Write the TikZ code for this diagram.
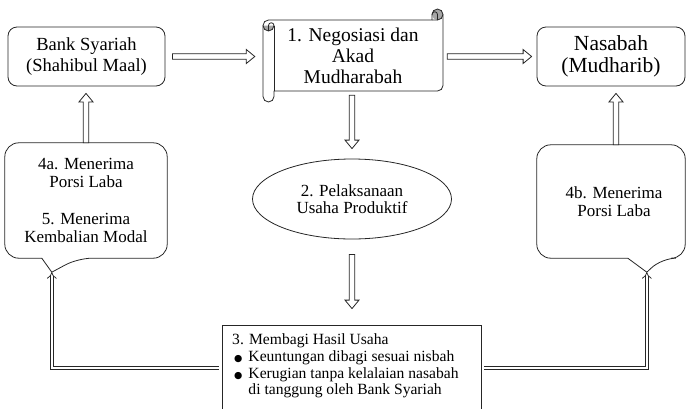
\documentclass[tikz,border=0pt]{standalone}
\usepackage{fontspec}
\setmainfont{Liberation Serif}
\newfontfamily\symfont{DejaVu Sans}
\usetikzlibrary{calc,shapes.geometric,arrows.meta}
\newcommand\bul{{\symfont\fontsize{9.5}{9.5}\selectfont ●}}
\tikzset{
  outline/.style={draw=black!85, line width=0.8pt},
  entitybox/.style={outline, rounded corners=9pt, minimum height=59pt, inner sep=0pt, align=center},
  blockarr/.style={outline, fill=white, line join=miter},
  dbl/.style={draw=black!85, double=white, double distance=2.6pt, line width=0.75pt, -{Implies[]}},
  curl/.style={fill=black!35},
}
\newcommand\blockarrow[2]{%
  \draw[blockarr] let \p1=(#1), \p2=(#2),
      \n1={atan2(\y2-\y1,\x2-\x1)}, \n2={veclen(\x2-\x1,\y2-\y1)} in
    [shift={(\p1)}, rotate=\n1]
    (0pt,-2.75pt) -- ({\n2*1pt-8.5pt},-2.75pt) -- ({\n2*1pt-8.5pt},-7pt) -- ({\n2*1pt},0pt)
    -- ({\n2*1pt-8.5pt},7pt) -- ({\n2*1pt-8.5pt},2.75pt) -- (0pt,2.75pt) -- cycle;}
\begin{document}
\begin{tikzpicture}[x=1pt,y=-1pt]
\useasboundingbox (0,0) rectangle (686,408);
% entities
\node[entitybox, minimum width=157pt, font=\fontsize{18.5}{21}\selectfont] (bank) at (86.5,56.5) {Bank Syariah\\(Shahibul Maal)};
\node[entitybox, minimum width=148pt, font=\fontsize{21.5}{22.5}\selectfont] (nas) at (611,56.5) {Nasabah\\(Mudharib)};
% scroll
\begin{scope}[shift={(263,9)}]
  \fill[white] (0,16.5) arc[start angle=180, delta angle=90, radius=5.5] -- (169,11) -- (169,5.5)
     arc[start angle=180, delta angle=180, radius=5.5] -- (180,76.5)
     arc[start angle=0, delta angle=90, radius=5.5] -- (11,82) -- (11,87.5)
     arc[start angle=0, delta angle=180, radius=5.5] -- cycle;
  \fill[curl] (174.5,5.5) circle[radius=5.5];
  \fill[curl] (11,16.5) arc[start angle=0, delta angle=180, radius=5.5] -- cycle;
  \draw[outline, line join=round] (0,16.5) arc[start angle=180, delta angle=90, radius=5.5] -- (169,11) -- (169,5.5)
     arc[start angle=180, delta angle=180, radius=5.5] -- (180,76.5)
     arc[start angle=0, delta angle=90, radius=5.5] -- (11,82) -- (11,87.5)
     arc[start angle=0, delta angle=180, radius=5.5] -- cycle;
  \draw[outline] (169,11) -- (174.5,11) arc[start angle=90, delta angle=-90, radius=5.5];
  \draw[outline] (174.5,11) -- (174.5,5.5) arc[start angle=0, delta angle=-180, radius=2.75];
  \draw[outline] (5.5,22) -- (5.5,16.5) arc[start angle=180, delta angle=180, radius=2.75]
     arc[start angle=0, delta angle=180, radius=5.5];
  \draw[outline] (11,16.5) -- (11,82);
\end{scope}
\node[minimum width=180pt, minimum height=71pt, inner sep=0pt, align=center, font=\fontsize{19.5}{21}\selectfont] (neg) at (353,55.5) {1. Negosiasi dan\\Akad\\Mudharabah};
% ellipse
\node[outline, ellipse, minimum width=199pt, minimum height=80pt, inner sep=0pt, align=center, font=\fontsize{17}{17.5}\selectfont] (ell) at (352,199) {2. Pelaksanaan\\Usaha Produktif};
% callouts
\node[minimum width=162pt, minimum height=115pt, inner sep=0pt, align=center, font=\fontsize{17}{18.3}\selectfont] (ca) at (86,200.5) {4a. Menerima\\Porsi Laba\\[18pt]5. Menerima\\Kembalian Modal};
\coordinate (tipL) at ($(ca.south west)+(47,14)$);
\draw[outline, rounded corners=14pt] ($(ca.south west)+(37,0)$) -- (ca.south west) -- (ca.north west) -- (ca.north east) -- (ca.south east) -- ($(ca.south west)+(73,0)$) [sharp corners] -- (tipL) -- cycle;
\node[minimum width=148pt, minimum height=113pt, inner sep=0pt, align=center, font=\fontsize{17}{18.3}\selectfont] (cb) at (611,201.5) {\hspace*{6pt}4b. Menerima\\\hspace*{6pt}Porsi Laba};
\coordinate (tipR) at ($(cb.south west)+(110,14)$);
\draw[outline, rounded corners=14pt] ($(cb.south west)+(91,0)$) -- (cb.south west) -- (cb.north west) -- (cb.north east) -- (cb.south east) -- ($(cb.south west)+(125,0)$) [sharp corners] -- (tipR) -- cycle;
% result box
\node[outline, minimum width=259pt, minimum height=86pt, inner sep=0pt] (res) at (351.5,368) {};
\node[anchor=north west, inner sep=0pt, font=\fontsize{15.6}{16.7}\selectfont] (restxt) at (232,333)
 {\begin{tabular}{@{\hspace{2pt}}c@{\hspace{6pt}}l@{}}
  \multicolumn{2}{@{}l@{}}{3. Membagi Hasil Usaha}\\
  \bul & Keuntungan dibagi sesuai nisbah\\
  \bul & Kerugian tanpa kelalaian nasabah\\
       & di tanggung oleh Bank Syariah
  \end{tabular}};
% block arrows
\blockarrow{$(bank.east)!7pt!(bank.east -| neg.west)$}{$(bank.east -| neg.west)!8pt!(bank.east)$}
\blockarrow{$(nas.west -| neg.east)!4pt!(nas.west)$}{$(nas.west)!5pt!(nas.west -| neg.east)$}
\blockarrow{$(ell.north |- neg.south)!4pt!(ell.north)$}{$(ell.north)!10pt!(ell.north |- neg.south)$}
\blockarrow{$(ell.south)!15pt!(ell.south |- res.north)$}{$(ell.south |- res.north)!16pt!(ell.south)$}
\blockarrow{ca.north}{$(ca.north |- bank.south)!7pt!(ca.north)$}
\blockarrow{$(cb.north)+(5,0)$}{$(nas.south)+(5,7)$}
% double connectors
\draw[dbl] ($(res.west)+(-3,0)$) -| (tipL);
\draw[dbl] ($(res.east)+(3,0)$) -| (tipR);
\end{tikzpicture}
\end{document}
